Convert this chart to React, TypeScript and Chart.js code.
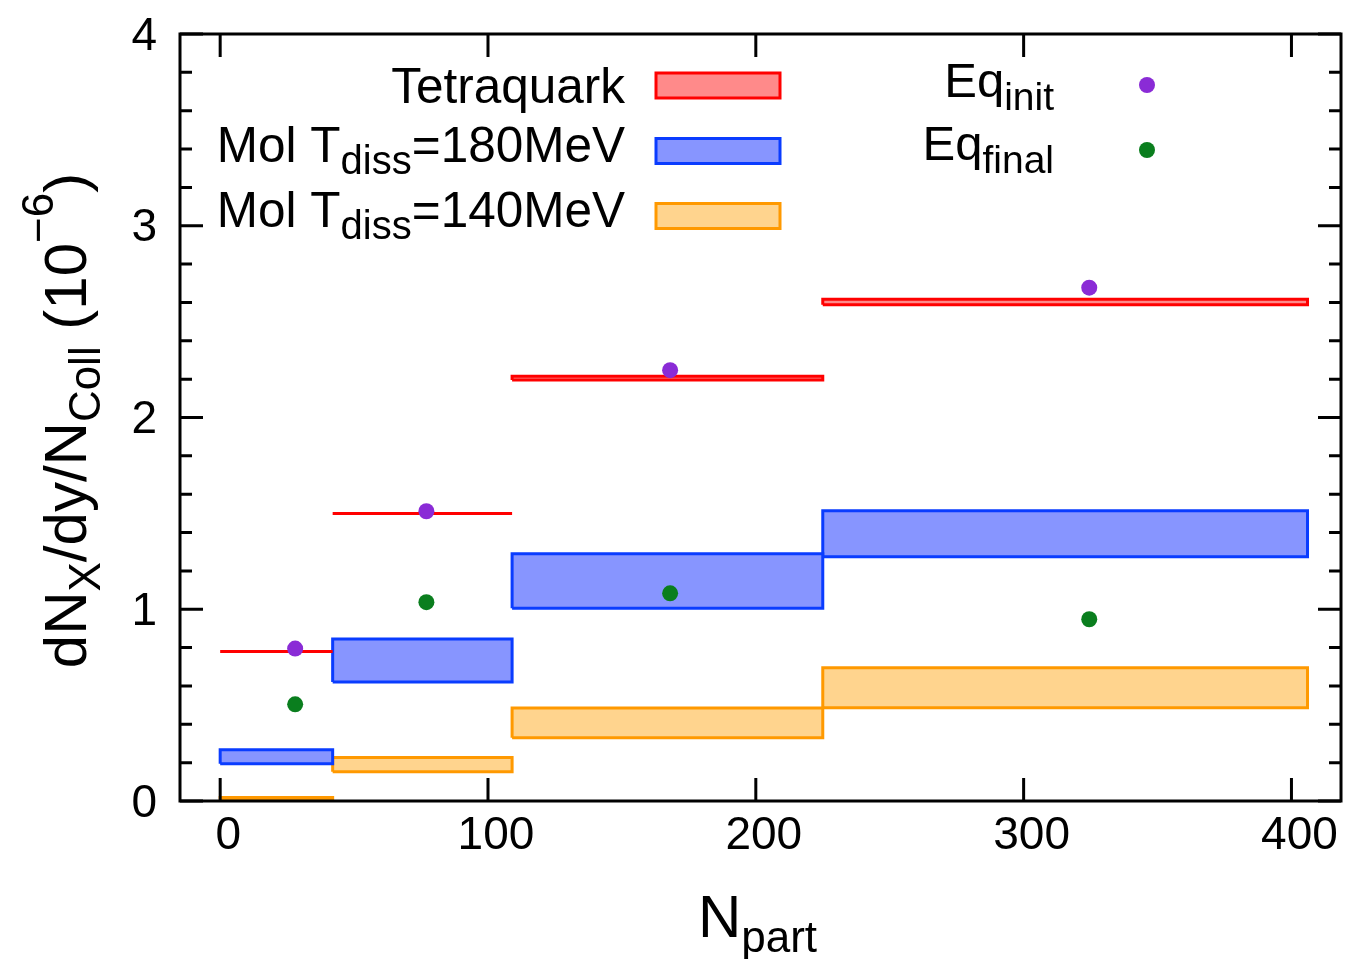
import React, { useEffect, useRef } from "react";
import { Chart, registerables } from "chart.js";

Chart.register(...registerables);

// ---- data ----
const BIN_EDGES = [0, 42, 109, 225, 406];
const NPART = [28, 77, 168, 324.5];
const TETRA_LO = [0.78, 1.5, 2.195, 2.588];
const TETRA_HI = [0.78, 1.5, 2.215, 2.617];
const MOL180_LO = [0.194, 0.621, 1.005, 1.274];
const MOL180_HI = [0.267, 0.845, 1.29, 1.514];
const MOL140_LO = [0.008, 0.152, 0.33, 0.486];
const MOL140_HI = [0.018, 0.227, 0.485, 0.695];
const EQ_INIT = [0.795, 1.511, 2.247, 2.677];
const EQ_FINAL = [0.504, 1.037, 1.083, 0.948];
const X_TICKS = [0, 100, 200, 300, 400];
const Y_TICKS = [0, 1, 2, 3, 4];
const Y_MINOR = [0.2, 0.4, 0.6, 0.8, 1.2, 1.4, 1.6, 1.8, 2.2, 2.4, 2.6, 2.8, 3.2, 3.4, 3.6, 3.8];

const FAMILY = '"Liberation Sans", Arial, Helvetica, sans-serif';

const RED = { stroke: "#ff0000", fill: "#ff8a8a" };
const BLUE = { stroke: "#0a3cff", fill: "#8795ff" };
const ORANGE = { stroke: "#ff9900", fill: "#ffd48e" };
const PURPLE = "#8a2bd6";
const GREEN = "#0a7e1e";

type Seg = { t: string; size: number; dy: number };

function drawRich(ctx: CanvasRenderingContext2D, segs: Seg[], x: number, y: number, align: "left" | "right" | "center") {
  ctx.textBaseline = "alphabetic";
  ctx.textAlign = "left";
  const widths = segs.map((s) => {
    ctx.font = `${s.size}px ${FAMILY}`;
    return ctx.measureText(s.t).width;
  });
  const total = widths.reduce((a, b) => a + b, 0);
  let cx = align === "left" ? x : align === "right" ? x - total : x - total / 2;
  segs.forEach((s, i) => {
    ctx.font = `${s.size}px ${FAMILY}`;
    ctx.fillText(s.t, cx, y + s.dy);
    cx += widths[i];
  });
}

function boxData(lo: number[], hi: number[], i: number) {
  const x0 = BIN_EDGES[i];
  const x1 = BIN_EDGES[i + 1];
  return [
    { x: x0, y: lo[i] },
    { x: x1, y: lo[i] },
    { x: x1, y: hi[i] },
    { x: x0, y: hi[i] },
    { x: x0, y: lo[i] },
  ];
}

const framePlugin = {
  id: "frame",
  afterDatasetsDraw(chart: any) {
    const { ctx, chartArea: a, scales } = chart;
    const xs = scales.x;
    const ys = scales.y;
    ctx.save();
    ctx.strokeStyle = "#000";
    ctx.lineWidth = 3;
    ctx.lineCap = "butt";
    ctx.beginPath();
    const major = 23;
    const minor = 12;
    X_TICKS.forEach((v) => {
      const px = xs.getPixelForValue(v);
      ctx.moveTo(px, a.bottom);
      ctx.lineTo(px, a.bottom - major);
      ctx.moveTo(px, a.top);
      ctx.lineTo(px, a.top + major);
    });
    Y_TICKS.forEach((v) => {
      const py = ys.getPixelForValue(v);
      ctx.moveTo(a.left, py);
      ctx.lineTo(a.left + major, py);
      ctx.moveTo(a.right, py);
      ctx.lineTo(a.right - major, py);
    });
    Y_MINOR.forEach((v) => {
      const py = ys.getPixelForValue(v);
      ctx.moveTo(a.left, py);
      ctx.lineTo(a.left + minor, py);
      ctx.moveTo(a.right, py);
      ctx.lineTo(a.right - minor, py);
    });
    ctx.stroke();
    ctx.lineJoin = "miter";
    ctx.strokeRect(a.left, a.top, a.right - a.left, a.bottom - a.top);
    ctx.restore();
  },
};

const textPlugin = {
  id: "texts",
  afterDraw(chart: any) {
    const { ctx, chartArea: a } = chart;
    ctx.save();
    ctx.fillStyle = "#000";
    // x title
    const cxm = (a.left + a.right) / 2 - 3;
    drawRich(ctx, [
      { t: "N", size: 60, dy: 0 },
      { t: "part", size: 44, dy: 15 },
    ], cxm, 937, "center");
    // y title
    ctx.save();
    ctx.translate(86, (a.top + a.bottom) / 2 + 3);
    ctx.rotate(-Math.PI / 2);
    drawRich(ctx, [
      { t: "dN", size: 60, dy: 0 },
      { t: "X", size: 44, dy: 14 },
      { t: "/dy/N", size: 60, dy: 0 },
      { t: "Coll", size: 44, dy: 14 },
      { t: " (10", size: 60, dy: 0 },
      { t: "\u22126", size: 44, dy: -33 },
      { t: ")", size: 60, dy: 0 },
    ], 0, 0, "center");
    ctx.restore();

    // legend left column
    const L = 49.5, S = 40;
    drawRich(ctx, [{ t: "Tetraquark", size: L, dy: 0 }], 625, 103, "right");
    drawRich(ctx, [
      { t: "Mol T", size: L, dy: 0 },
      { t: "diss", size: S, dy: 12 },
      { t: "=180MeV", size: L, dy: 0 },
    ], 625, 162, "right");
    drawRich(ctx, [
      { t: "Mol T", size: L, dy: 0 },
      { t: "diss", size: S, dy: 12 },
      { t: "=140MeV", size: L, dy: 0 },
    ], 625, 227, "right");
    const sw = [
      { c: RED, y: 85.5 },
      { c: BLUE, y: 151 },
      { c: ORANGE, y: 216 },
    ];
    sw.forEach(({ c, y }) => {
      ctx.fillStyle = c.fill;
      ctx.strokeStyle = c.stroke;
      ctx.lineWidth = 3;
      ctx.fillRect(656, y - 12.5, 124, 25);
      ctx.strokeRect(656, y - 12.5, 124, 25);
    });
    ctx.fillStyle = "#000";
    drawRich(ctx, [
      { t: "Eq", size: 49, dy: 0 },
      { t: "init", size: 39, dy: 13 },
    ], 1054, 97, "right");
    drawRich(ctx, [
      { t: "Eq", size: 49, dy: 0 },
      { t: "final", size: 39, dy: 13 },
    ], 1054, 160, "right");
    [
      { c: PURPLE, y: 85 },
      { c: GREEN, y: 150 },
    ].forEach(({ c, y }) => {
      ctx.fillStyle = c;
      ctx.beginPath();
      ctx.arc(1147, y, 8, 0, Math.PI * 2);
      ctx.fill();
    });
    ctx.restore();
  },
};

export default function App() {
  const ref = useRef<HTMLCanvasElement | null>(null);
  useEffect(() => {
    if (!ref.current) return;
    const boxes: any[] = [];
    const groups = [
      { lo: TETRA_LO, hi: TETRA_HI, c: RED },
      { lo: MOL180_LO, hi: MOL180_HI, c: BLUE },
      { lo: MOL140_LO, hi: MOL140_HI, c: ORANGE },
    ];
    groups.forEach((g) => {
      for (let i = 0; i < BIN_EDGES.length - 1; i++) {
        boxes.push({
          data: boxData(g.lo, g.hi, i),
          showLine: true,
          fill: "shape",
          backgroundColor: g.c.fill,
          borderColor: g.c.stroke,
          borderWidth: 3,
          borderJoinStyle: "miter",
          pointRadius: 0,
          pointHoverRadius: 0,
          tension: 0,
        });
      }
    });
    const points = [
      { vals: EQ_INIT, c: PURPLE },
      { vals: EQ_FINAL, c: GREEN },
    ].map((p) => ({
      data: NPART.map((x, i) => ({ x, y: p.vals[i] })),
      showLine: false,
      pointRadius: 8,
      pointBackgroundColor: p.c,
      pointBorderWidth: 0,
      pointBorderColor: p.c,
      backgroundColor: p.c,
      borderColor: p.c,
    }));
    const tickFont = { family: FAMILY, size: 46 };
    const chart = new Chart(ref.current, {
      type: "scatter",
      data: { datasets: [...points, ...boxes] },
      options: {
        animation: false,
        responsive: false,
        devicePixelRatio: 1,
        layout: { autoPadding: false, padding: { left: 0, right: 5, top: 34, bottom: 0 } },
        plugins: { legend: { display: false }, tooltip: { enabled: false } },
        events: [],
        scales: {
          x: {
            type: "linear",
            min: -15,
            max: 418.5,
            afterFit: (s: any) => {
              s.height = 158;
              s.paddingLeft = 0;
              s.paddingRight = 0;
            },
            afterBuildTicks: (s: any) => {
              s.ticks = X_TICKS.map((v) => ({ value: v }));
            },
            grid: { display: false, drawTicks: false },
            border: { display: false },
            ticks: {
              font: tickFont,
              color: "#000",
              padding: 8,
              labelOffset: 8,
              maxRotation: 0,
              autoSkip: false,
              callback: (v: any) => String(v),
            },
          },
          y: {
            type: "linear",
            min: 0,
            max: 4,
            afterFit: (s: any) => {
              s.width = 180;
              s.paddingTop = 0;
              s.paddingBottom = 0;
            },
            afterBuildTicks: (s: any) => {
              s.ticks = Y_TICKS.map((v) => ({ value: v }));
            },
            grid: { display: false, drawTicks: false },
            border: { display: false },
            ticks: {
              font: tickFont,
              color: "#000",
              padding: 23,
              labelOffset: 3,
              autoSkip: false,
              callback: (v: any) => String(v),
            },
          },
        },
      } as any,
      plugins: [framePlugin, textPlugin],
    });
    return () => chart.destroy();
  }, []);
  return (
    <div style={{ position: "absolute", left: 0, top: 0, width: 1346, height: 959, background: "#fff" }}>
      <canvas ref={ref} width={1346} height={959} style={{ display: "block" }} />
    </div>
  );
}
